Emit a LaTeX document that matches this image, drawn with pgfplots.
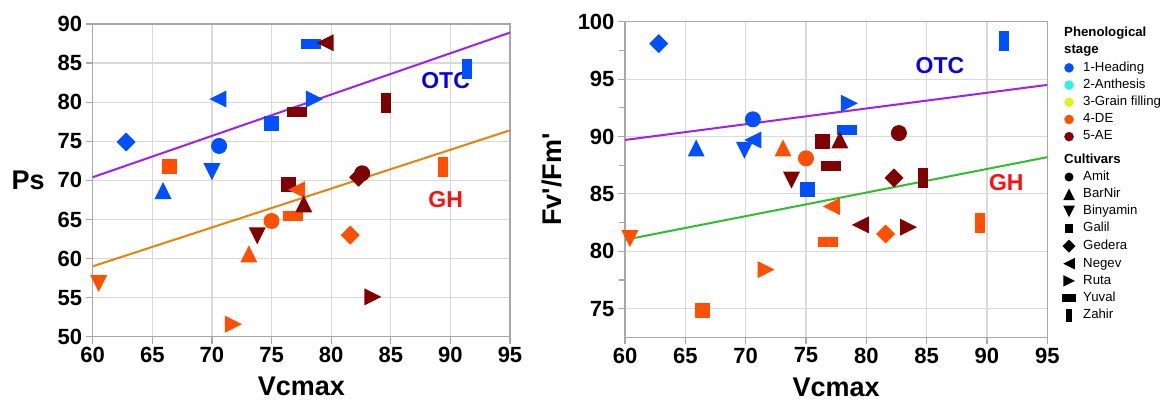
\documentclass[border=0pt]{standalone}
\usepackage{fontspec}
\setmainfont{Liberation Sans}
\usepackage{pgfplots}
\pgfplotsset{compat=1.18}
\usepackage{pgfplotstable}

\definecolor{cH}{HTML}{0050FF}
\definecolor{cN}{HTML}{2BF2E5}
\definecolor{cG}{HTML}{E2F020}
\definecolor{cD}{HTML}{FF4F00}
\definecolor{cA}{HTML}{7F0000}
\definecolor{lP}{HTML}{A020F0}
\definecolor{lO}{HTML}{E8820C}
\definecolor{lG}{HTML}{2EBE2E}
\definecolor{tOTC}{HTML}{0A00E8}
\definecolor{tGH}{HTML}{FF1010}
\definecolor{axgray}{HTML}{A8A8A8}
\definecolor{gridgray}{HTML}{D9D9D9}

\pgfdeclareplotmark{amit}{\pgfpathcircle{\pgfpointorigin}{8pt}\pgfusepathqfill}
\pgfdeclareplotmark{barnir}{\pgfpathmoveto{\pgfqpoint{0pt}{8.5pt}}\pgfpathlineto{\pgfqpoint{-8.5pt}{-8.5pt}}\pgfpathlineto{\pgfqpoint{8.5pt}{-8.5pt}}\pgfpathclose\pgfusepathqfill}
\pgfdeclareplotmark{binyamin}{\pgfpathmoveto{\pgfqpoint{0pt}{-8.5pt}}\pgfpathlineto{\pgfqpoint{-8.5pt}{8.5pt}}\pgfpathlineto{\pgfqpoint{8.5pt}{8.5pt}}\pgfpathclose\pgfusepathqfill}
\pgfdeclareplotmark{negev}{\pgfpathmoveto{\pgfqpoint{-8.5pt}{0pt}}\pgfpathlineto{\pgfqpoint{8.5pt}{8.5pt}}\pgfpathlineto{\pgfqpoint{8.5pt}{-8.5pt}}\pgfpathclose\pgfusepathqfill}
\pgfdeclareplotmark{ruta}{\pgfpathmoveto{\pgfqpoint{8.5pt}{0pt}}\pgfpathlineto{\pgfqpoint{-8.5pt}{8.5pt}}\pgfpathlineto{\pgfqpoint{-8.5pt}{-8.5pt}}\pgfpathclose\pgfusepathqfill}
\pgfdeclareplotmark{galil}{\pgfpathrectangle{\pgfqpoint{-7.5pt}{-7.5pt}}{\pgfqpoint{15pt}{15pt}}\pgfusepathqfill}
\pgfdeclareplotmark{gedera}{\pgfpathmoveto{\pgfqpoint{0pt}{9.5pt}}\pgfpathlineto{\pgfqpoint{9.5pt}{0pt}}\pgfpathlineto{\pgfqpoint{0pt}{-9.5pt}}\pgfpathlineto{\pgfqpoint{-9.5pt}{0pt}}\pgfpathclose\pgfusepathqfill}
\pgfdeclareplotmark{yuval}{\pgfpathrectangle{\pgfqpoint{-10pt}{-5pt}}{\pgfqpoint{20pt}{10pt}}\pgfusepathqfill}
\pgfdeclareplotmark{zahir}{\pgfpathrectangle{\pgfqpoint{-5pt}{-10pt}}{\pgfqpoint{10pt}{20pt}}\pgfusepathqfill}

\pgfplotsset{
  myclasses/.style={scatter/classes={
    HAmit={mark=amit,cH},HBarNir={mark=barnir,cH},HBinyamin={mark=binyamin,cH},
    HGalil={mark=galil,cH},HGedera={mark=gedera,cH},HNegev={mark=negev,cH},
    HRuta={mark=ruta,cH},HYuval={mark=yuval,cH},HZahir={mark=zahir,cH},
    DAmit={mark=amit,cD},DBarNir={mark=barnir,cD},DBinyamin={mark=binyamin,cD},
    DGalil={mark=galil,cD},DGedera={mark=gedera,cD},DNegev={mark=negev,cD},
    DRuta={mark=ruta,cD},DYuval={mark=yuval,cD},DZahir={mark=zahir,cD},
    AAmit={mark=amit,cA},ABarNir={mark=barnir,cA},ABinyamin={mark=binyamin,cA},
    AGalil={mark=galil,cA},AGedera={mark=gedera,cA},ANegev={mark=negev,cA},
    ARuta={mark=ruta,cA},AYuval={mark=yuval,cA},AZahir={mark=zahir,cA}}},
  mybase/.style={
    scale only axis,
    xmin=60, xmax=95, xtick={60,65,...,95},
    grid=major,
    major grid style={gridgray, line width=1.2pt},
    axis line style={axgray, line width=1.3pt},
    tick align=outside,
    major tick length=7pt,
    minor tick length=6pt,
    every tick/.style={axgray, line width=1.2pt},
    xtick pos=bottom, ytick pos=left,
    /pgf/number format/assume math mode=true,
    tick label style={font=\fontsize{22}{22}\selectfont\bfseries, text=black},
    label style={font=\fontsize{27}{27}\selectfont\bfseries},
    xlabel={Vcmax},
    xlabel style={at={(axis description cs:0.5,-0.16)}, anchor=center},
  },
}

\pgfplotstableread{
x y c
62.8 74.9 HGedera
70.6 74.4 HAmit
70.5 80.4 HNegev
70.0 71.1 HBinyamin
65.9 68.7 HBarNir
75.0 77.3 HGalil
78.6 80.4 HRuta
78.3 87.5 HYuval
91.4 84.3 HZahir
76.4 69.5 AGalil
66.4 71.8 DGalil
60.5 56.8 DBinyamin
73.1 60.6 DBarNir
75.0 64.8 DAmit
76.8 65.4 DYuval
77.1 68.8 DNegev
81.6 63.0 DGedera
71.8 51.6 DRuta
89.4 71.7 DZahir
77.7 67.0 ABarNir
73.8 62.9 ABinyamin
77.1 78.7 AYuval
79.5 87.6 ANegev
84.6 79.9 AZahir
82.6 70.9 AAmit
82.3 70.4 AGedera
83.5 55.1 ARuta
}\leftdata

\pgfplotstableread{
x y c
62.8 98.1 HGedera
70.6 91.5 HAmit
65.9 89.0 HBarNir
69.9 88.8 HBinyamin
70.6 89.7 HNegev
75.1 85.4 HGalil
78.6 92.9 HRuta
78.4 90.6 HYuval
91.4 98.3 HZahir
60.4 81.1 DBinyamin
66.4 74.8 DGalil
73.1 89.0 DBarNir
75.0 88.1 DAmit
71.7 78.4 DRuta
77.1 83.9 DNegev
76.8 80.8 DYuval
81.6 81.5 DGedera
89.4 82.5 DZahir
76.4 89.6 AGalil
77.8 89.7 ABarNir
77.1 87.4 AYuval
73.8 86.2 ABinyamin
82.7 90.3 AAmit
82.3 86.4 AGedera
84.7 86.4 AZahir
79.5 82.3 ANegev
83.5 82.1 ARuta
}\rightdata

\begin{document}
\begin{tikzpicture}
\useasboundingbox (0,0) rectangle (1176pt,401pt);

% ---------- left panel ----------
\begin{axis}[mybase,
  at={(92.7pt,64.3pt)}, anchor=south west,
  width=417.3pt, height=312.7pt,
  ymin=50, ymax=90, ytick={50,55,...,90},
  ylabel={Ps},
  ylabel style={rotate=-90, at={(axis description cs:-0.155,0.5)}, anchor=center},
]
\addplot[lP, line width=2pt, forget plot] coordinates {(60,70.4) (95,88.9)};
\addplot[lO, line width=2pt, forget plot] coordinates {(60,59.0) (95,76.4)};
\addplot[scatter, only marks, myclasses, scatter src=explicit symbolic, forget plot]
  table[x=x, y=y, meta=c] {\leftdata};
\node[font=\fontsize{23}{23}\selectfont\bfseries, text=tOTC] at (axis cs:89.6,82.8) {OTC};
\node[font=\fontsize{23}{23}\selectfont\bfseries, text=tGH] at (axis cs:89.6,67.5) {GH};
\end{axis}

% ---------- right panel ----------
\begin{axis}[mybase,
  at={(625pt,63.7pt)}, anchor=south west,
  width=422.3pt, height=315.5pt,
  ymin=72.5, ymax=100, ytick={75,80,...,100},
  minor ytick={77.5,82.5,...,97.5},
  ylabel={Fv\textquotesingle/Fm\textquotesingle},
  ylabel style={rotate=0, at={(axis description cs:-0.173,0.5)}, anchor=center},
  legend cell align=left,
  legend style={draw=none, fill=none, inner sep=0pt, outer sep=0pt,
    at={(axis description cs:1,1)}, anchor=north west, xshift=13.2pt, yshift=-5.5pt,
    row sep=4.9pt,
    font=\fontsize{13.2}{14}\selectfont,
    nodes={inner ysep=0pt, inner xsep=7pt, text height=9.5pt, text depth=2.8pt}},
]
\addplot[lP, line width=2pt, forget plot] coordinates {(60,89.7) (95,94.5)};
\addplot[lG, line width=2pt, forget plot] coordinates {(60,81.0) (95,88.2)};
\addplot[scatter, only marks, myclasses, scatter src=explicit symbolic, forget plot]
  table[x=x, y=y, meta=c] {\rightdata};
\node[font=\fontsize{23}{23}\selectfont\bfseries, text=tOTC] at (axis cs:86.1,96.2) {OTC};
\node[font=\fontsize{23}{23}\selectfont\bfseries, text=tGH] at (axis cs:91.6,85.95) {GH};

\addlegendimage{empty legend}\addlegendentry{\hspace{-19pt}\textbf{Phenological}}
\addlegendimage{empty legend}\addlegendentry{\hspace{-19pt}\textbf{stage}}
\addlegendimage{only marks, mark=*, mark size=4.5pt, color=cH}\addlegendentry{1-Heading}
\addlegendimage{only marks, mark=*, mark size=4.5pt, color=cN}\addlegendentry{2-Anthesis}
\addlegendimage{only marks, mark=*, mark size=4.5pt, color=cG}\addlegendentry{3-Grain filling}
\addlegendimage{only marks, mark=*, mark size=4.5pt, color=cD}\addlegendentry{4-DE}
\addlegendimage{only marks, mark=*, mark size=4.5pt, color=cA}\addlegendentry{5-AE}
\addlegendimage{empty legend}\addlegendentry[text height=15.5pt]{\hspace{-19pt}\textbf{Cultivars}}
\addlegendimage{only marks, mark=amit, black, mark options={scale=0.56}}\addlegendentry{Amit}
\addlegendimage{only marks, mark=barnir, black, mark options={scale=0.68}}\addlegendentry{BarNir}
\addlegendimage{only marks, mark=binyamin, black, mark options={scale=0.68}}\addlegendentry{Binyamin}
\addlegendimage{only marks, mark=galil, black, mark options={scale=0.56}}\addlegendentry{Galil}
\addlegendimage{only marks, mark=gedera, black, mark options={scale=0.68}}\addlegendentry{Gedera}
\addlegendimage{only marks, mark=negev, black, mark options={scale=0.68}}\addlegendentry{Negev}
\addlegendimage{only marks, mark=ruta, black, mark options={scale=0.68}}\addlegendentry{Ruta}
\addlegendimage{only marks, mark=yuval, black, mark options={scale=0.72}}\addlegendentry{Yuval}
\addlegendimage{only marks, mark=zahir, black, mark options={scale=0.65}}\addlegendentry{Zahir}
\end{axis}
\end{tikzpicture}
\end{document}
